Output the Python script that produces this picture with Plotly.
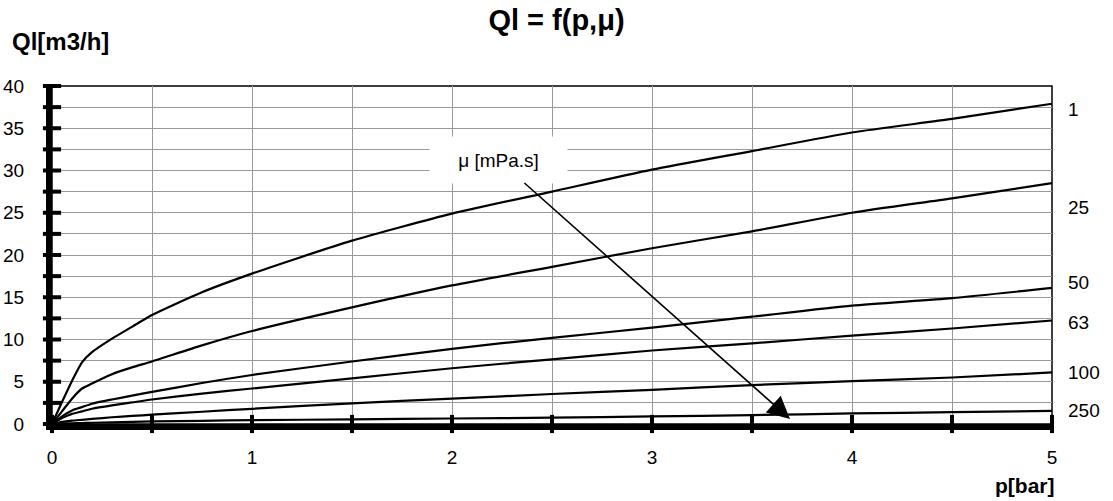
import plotly.graph_objects as go

# pressure p [bar]
p = [0, 0.05, 0.1, 0.15, 0.2, 0.3, 0.4, 0.5, 0.75, 1, 1.5, 2, 2.5, 3, 3.5, 4, 4.5, 5]

# flow Ql [m3/h] for each viscosity mu [mPa.s]
q_mu1 = [0, 2.6, 5.1, 7.3, 8.5, 10.1, 11.5, 12.9, 15.6, 17.8, 21.7, 24.9, 27.5, 30.1, 32.3, 34.5, 36.1, 37.9]
q_mu25 = [0, 1.5, 3.0, 4.2, 4.8, 5.9, 6.7, 7.4, 9.3, 11.0, 13.8, 16.4, 18.6, 20.8, 22.8, 25.0, 26.7, 28.5]
q_mu50 = [0, 0.9, 1.6, 2.0, 2.4, 2.9, 3.35, 3.8, 4.85, 5.8, 7.4, 8.9, 10.2, 11.4, 12.7, 14.0, 14.9, 16.1]
q_mu63 = [0, 0.7, 1.2, 1.5, 1.8, 2.2, 2.55, 2.9, 3.6, 4.2, 5.4, 6.6, 7.65, 8.7, 9.55, 10.45, 11.3, 12.25]
q_mu100 = [0, 0.25, 0.4, 0.5, 0.6, 0.8, 0.95, 1.1, 1.45, 1.8, 2.45, 3.0, 3.55, 4.05, 4.6, 5.07, 5.5, 6.1]
q_mu250 = [0, 0.05, 0.08, 0.12, 0.15, 0.2, 0.25, 0.3, 0.38, 0.45, 0.55, 0.65, 0.75, 0.9, 1.05, 1.25, 1.4, 1.55]

mu_labels = ['1', '25', '50', '63', '100', '250']
series = [q_mu1, q_mu25, q_mu50, q_mu63, q_mu100, q_mu250]

# tick positions
x_major = [0, 1, 2, 3, 4, 5]
x_minor = [0, 0.5, 1, 1.5, 2, 2.5, 3, 3.5, 4, 4.5, 5]
y_major = [0, 5, 10, 15, 20, 25, 30, 35, 40]
y_minor = [0, 2.5, 5, 7.5, 10, 12.5, 15, 17.5, 20, 22.5, 25, 27.5, 30, 32.5, 35, 37.5, 40]

FONT = 'Arial, Liberation Sans, sans-serif'

# where the mu labels sit on the right side
label_y = [37.2, 25.6, 16.7, 12.0, 6.1, 1.6]

fig = go.Figure()

for name, q in zip(mu_labels, series):
    fig.add_trace(go.Scatter(
        x=p, y=q, mode='lines', name=name,
        line=dict(color='black', width=2.2, shape='spline', smoothing=0.6),
        hoverinfo='skip'
    ))

# cross tick marks on the axes
fig.add_trace(go.Scatter(
    x=[0] * len(y_minor), y=y_minor, mode='markers',
    marker=dict(symbol='line-ew-open', size=13, color='black', line=dict(color='black', width=4)),
    cliponaxis=False, hoverinfo='skip'
))
fig.add_trace(go.Scatter(
    x=x_minor, y=[0] * len(x_minor), mode='markers',
    marker=dict(symbol='line-ns-open', size=13, color='black', line=dict(color='black', width=4)),
    cliponaxis=False, hoverinfo='skip'
))

# mu labels
for name, ly in zip(mu_labels, label_y):
    fig.add_annotation(
        x=1, xref='paper', y=ly, yref='y', text=name, showarrow=False,
        xanchor='left', xshift=14, font=dict(size=19, color='black', family=FONT)
    )

# viscosity arrow
fig.add_annotation(
    x=3.69, y=0.6, ax=2.23, ay=31.3, xref='x', yref='y', axref='x', ayref='y',
    text='μ [mPa.s]', showarrow=True, arrowhead=2, arrowsize=2.8, arrowwidth=1.6,
    arrowcolor='black', bgcolor='white', width=135, height=44,
    font=dict(size=19, color='black', family=FONT)
)

# axis titles
fig.add_annotation(
    x=-0.042, xref='paper', y=1.133, yref='paper', text='<b>Ql[m3/h]</b>',
    showarrow=False, xanchor='left', yanchor='middle',
    font=dict(size=24, color='black', family=FONT)
)
fig.add_annotation(
    x=1.005, xref='paper', y=-0.183, yref='paper', text='<b>p[bar]</b>',
    showarrow=False, xanchor='right', yanchor='middle',
    font=dict(size=21, color='black', family=FONT)
)

# thin frame on top and right
fig.add_shape(type='rect', xref='paper', yref='paper', x0=0, x1=1, y0=0, y1=1,
              line=dict(color='black', width=1.5), layer='below')

fig.update_layout(
    width=1113, height=501,
    paper_bgcolor='white', plot_bgcolor='white',
    margin=dict(l=52, r=61, t=86, b=77),
    showlegend=False,
    title=dict(text='<b>Ql = f(p,μ)</b>', x=0.5, xanchor='center', y=0.96, yanchor='middle',
               font=dict(size=29, color='black', family=FONT)),
    xaxis=dict(
        range=[0, 5], tickvals=x_major, showgrid=True, gridcolor='#999999', gridwidth=1,
        minor=dict(tickvals=x_minor, showgrid=True, gridcolor='#999999', gridwidth=1),
        showline=True, linecolor='black', linewidth=6, ticks='', zeroline=False,
        automargin=False,
        ticklabelstandoff=11, tickfont=dict(size=19, color='black', family=FONT)
    ),
    yaxis=dict(
        range=[0, 40], tickvals=y_major, showgrid=True, gridcolor='#999999', gridwidth=1,
        minor=dict(tickvals=y_minor, showgrid=True, gridcolor='#999999', gridwidth=1),
        showline=True, linecolor='black', linewidth=6, ticks='', zeroline=False,
        automargin=False,
        ticklabelstandoff=18, tickfont=dict(size=19, color='black', family=FONT)
    ),
)

# drop the default body margin so the figure fills the window
fig.write_html("out.html", config={'displayModeBar': False},
               post_script="document.body.style.margin='0px';")
